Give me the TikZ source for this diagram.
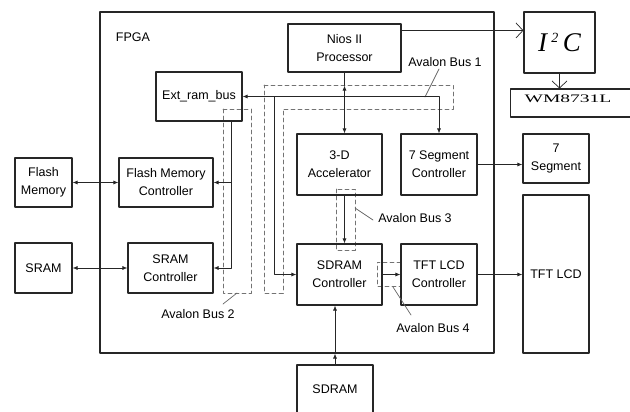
\documentclass[tikz,border=0pt]{standalone}
\usepackage{fontspec}
\setmainfont{Liberation Sans}
\newfontfamily\serifwm{Liberation Serif}
\usetikzlibrary{arrows.meta,calc}
\begin{document}
\begin{tikzpicture}[x=1pt, y=-1pt, line cap=round, line join=round,
  font=\fontsize{12.5}{18}\selectfont,
  blk/.style={draw=black!85, line width=1.1pt, align=center, inner sep=0pt},
  bus/.style={draw=black!55, dash pattern=on 4pt off 3pt, line width=0.8pt},
  wire/.style={draw=black!85, line width=0.7pt},
  tip/.style={wire, -{Latex[length=5pt,width=4pt]}},
  twotip/.style={wire, {Latex[length=5pt,width=4pt]}-{Latex[length=5pt,width=4pt]}},
  barb/.style={wire, -{Straight Barb[length=7pt,width=15pt]}}]
\useasboundingbox (0,0) rectangle (630,412);

% FPGA frame
\node[blk, minimum width=394, minimum height=341] (fpga) at (297,182.5) {};
\node (fpgalbl) at (133,37) {FPGA};

% Avalon buses (dashed)
\draw[bus] (264,85) -- (453,85) -- (453,109) -- (283,109) -- (283,293) -- (264,293) -- cycle;
\draw[bus] (223,109) rectangle (251,293);
\draw[bus] (336,189) rectangle (355,250);
\draw[bus] (401,262) -- (377,262) -- (377,286) -- (401,286);

% blocks
\node[blk, minimum width=113, minimum height=48] (nios) at (344.5,48) {Nios II\\Processor};
\node[blk, minimum width=71, minimum height=61] (i2c) at (559.5,42.5)
  {\serifwm\itshape\fontsize{27}{27}\selectfont I\,\raisebox{9pt}{\fontsize{14}{14}\selectfont 2}\,C};
\node[blk, minimum width=130, minimum height=28, anchor=west] (wm) at (510,103) {};
\node (wmlbl) at (568,99) {\serifwm\fontsize{11.5}{12}\selectfont\scalebox{1.7}[1]{WM8731L}};
\node[blk, minimum width=86, minimum height=49] (ext) at (199,96.5) {Ext\_ram\_bus};
\node[blk, minimum width=85, minimum height=61] (accel) at (339.5,164.5) {3-D\\Accelerator};
\node[blk, minimum width=76, minimum height=61] (seg7c) at (439,164.5) {7 Segment\\Controller};
\node[blk, minimum width=66, minimum height=49] (seg7) at (556,158.5) {7\\Segment};
\node[blk, minimum width=66, minimum height=158] (tft) at (556,274) {TFT LCD};
\node[blk, minimum width=85, minimum height=61] (sdramc) at (339.5,274.5) {SDRAM\\Controller};
\node[blk, minimum width=76, minimum height=61] (tftc) at (439,274.5) {TFT LCD\\Controller};
\node[blk, minimum width=57, minimum height=49] (flash) at (43.5,182.5) {Flash\\Memory};
\node[blk, minimum width=94, minimum height=49] (flashc) at (166,182.5) {Flash Memory\\Controller};
\node[blk, minimum width=57, minimum height=50] (sram) at (43.5,268) {SRAM};
\node[blk, minimum width=85, minimum height=50] (sramc) at (170.5,268) {SRAM\\Controller};
\node[blk, minimum width=76, minimum height=48] (sdram) at (335,389) {SDRAM};

% bus labels
\node (bus1) at (445,62) {Avalon Bus 1};
\node (bus2) at (198,314) {Avalon Bus 2};
\node (bus3) at (415,218) {Avalon Bus 3};
\node (bus4) at (433,328) {Avalon Bus 4};
\draw[wire, draw=black!60] (439,69) -- (425,97);
\draw[wire, draw=black!60] (223,304) -- (237,293);
\draw[wire, draw=black!60] (355,208) -- (373,220);
\draw[wire, draw=black!60] (393,287) -- (411,315);

% connections
\coordinate (busR) at (seg7c.north |- ext.east);
\coordinate (extdn) at ($(ext.south east)+(-11,0)$);
\coordinate (sddn) at ($(ext.east)+(32,0)$);
\coordinate (niosout) at ($(nios.north east)+(0,7)$);
\coordinate (niosdn) at ($(nios.south)+(0,13)$);
\draw[barb] (niosout) -- (niosout -| i2c.west);
\draw[barb] (i2c.south) -- (i2c.south |- wm.north);
\draw[tip] (busR) -- (ext.east);
\draw[tip] (busR) -- (seg7c.north);
\draw[wire] (nios.south) -- (niosdn);
\draw[twotip] (niosdn) -- (nios.south |- accel.north);
\draw[wire] (extdn) -- (extdn |- sramc.east);
\draw[tip] (extdn |- flashc.east) -- (flashc.east);
\draw[tip] (extdn |- sramc.east) -- (sramc.east);
\draw[tip] (sddn) |- (sdramc.west);
\draw[tip] (nios.south |- accel.south) -- (nios.south |- sdramc.north);
\draw[tip] (sdramc.east) -- (tftc.west);
\draw[tip] (tftc.east) -- (tftc.east -| tft.west);
\draw[tip] (seg7c.east) -- (seg7c.east -| seg7.west);
\draw[twotip] (flash.east) -- (flashc.west);
\draw[twotip] (sram.east) -- (sramc.west);
\draw[tip] (sdram.north) -- (sdram.north |- fpga.south);
\draw[tip] (sdram.north |- fpga.south) -- (sdram.north |- sdramc.south);
\end{tikzpicture}
\end{document}
